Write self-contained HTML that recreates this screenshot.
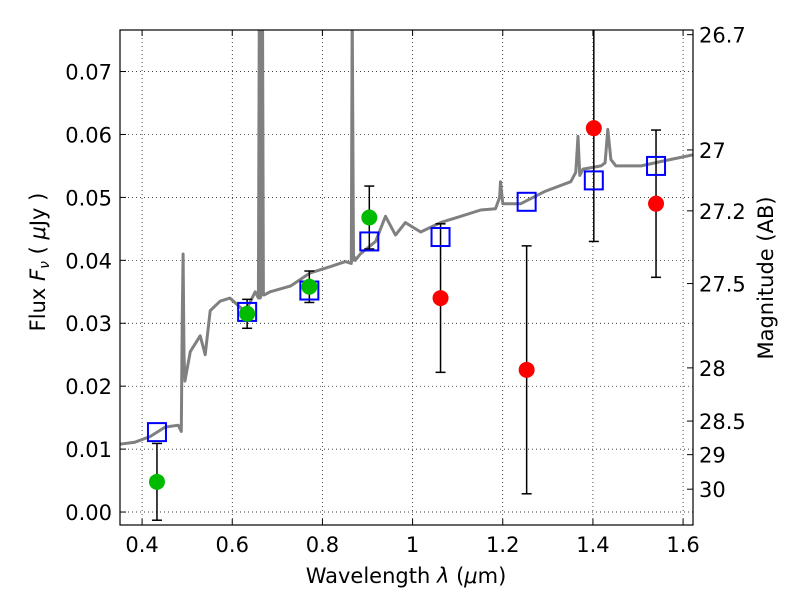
<!DOCTYPE html>
<html><head><meta charset="utf-8">
<style>
html,body{margin:0;padding:0;background:#fff;}
svg{display:block;font-family:"DejaVu Sans","Liberation Sans",sans-serif;}
</style></head>
<body>
<svg id="chart" width="800" height="600"></svg>
<script>
const specWave=[0.351,0.384,0.418,0.451,0.480,0.487,0.489,0.491,0.493,0.495,0.507,0.529,0.540,0.551,0.573,0.595,0.629,0.651,0.658,0.660,0.662,0.664,0.667,0.669,0.671,0.684,0.729,0.773,0.818,0.851,0.864,0.866,0.869,0.871,0.873,0.884,0.918,0.940,0.962,0.984,1.018,1.062,1.107,1.151,1.184,1.193,1.195,1.200,1.207,1.240,1.295,1.351,1.362,1.367,1.371,1.378,1.418,1.427,1.433,1.440,1.451,1.507,1.551,1.624];
const specFlux=[0.0108,0.0111,0.0120,0.0135,0.0138,0.0128,0.0300,0.0410,0.0250,0.0208,0.0255,0.0280,0.0250,0.0320,0.0335,0.0340,0.0318,0.0350,0.0340,0.0800,0.0340,0.0345,0.0800,0.0345,0.0345,0.0350,0.0359,0.0380,0.0390,0.0398,0.0395,0.0800,0.0400,0.0405,0.0400,0.0410,0.0430,0.0470,0.0440,0.0460,0.0445,0.0460,0.0470,0.0480,0.0482,0.0500,0.0525,0.0490,0.0490,0.0490,0.0510,0.0525,0.0540,0.0597,0.0535,0.0545,0.0550,0.0555,0.0608,0.0560,0.0550,0.0550,0.0557,0.0568];
const modelWave=[0.433,0.633,0.771,0.904,1.062,1.253,1.402,1.540];
const modelFlux=[0.0127,0.0318,0.0352,0.0430,0.0437,0.0493,0.0527,0.0550];
const detWave=[0.433,0.633,0.771,0.904];
const detFlux=[0.0048,0.0315,0.0358,0.0468];
const detErr=[0.0061,0.0023,0.0025,0.0050];
const ndWave=[1.062,1.253,1.402,1.540];
const ndFlux=[0.0340,0.0226,0.0610,0.0490];
const ndErr=[0.0118,0.0197,0.0180,0.0117];
const xTicks=[0.4,0.6,0.8,1.0,1.2,1.4,1.6];
const xTickLabels=["0.4","0.6","0.8","1","1.2","1.4","1.6"];
const yTicks=[0,0.01,0.02,0.03,0.04,0.05,0.06,0.07];
const yTickLabels=["0.00","0.01","0.02","0.03","0.04","0.05","0.06","0.07"];
const magTicks=[26.7,27,27.2,27.5,28,28.5,29,30];
const magTickLabels=["26.7","27","27.2","27.5","28","28.5","29","30"];

const L=120,R=693,T=30,B=525;
const xMin=0.351,xMax=1.622,yMin=-0.00206,yMax=0.0766;
const X=v=>L+(v-xMin)/(xMax-xMin)*(R-L);
const Y=v=>B-(v-yMin)/(yMax-yMin)*(B-T);
const NS="http://www.w3.org/2000/svg";
const svg=document.getElementById('chart');
function mk(tag,attrs,parent){const e=document.createElementNS(NS,tag);for(const k in attrs)e.setAttribute(k,attrs[k]);(parent||svg).appendChild(e);return e;}
const defs=mk('defs',{});const cp=mk('clipPath',{id:'clip'},defs);mk('rect',{x:L,y:T,width:R-L,height:B-T},cp);

const grid=mk('g',{});


xTicks.forEach(v=>mk('line',{x1:X(v),x2:X(v),y1:T,y2:B,stroke:'#000','stroke-width':0.7,'stroke-dasharray':'1,3'},grid));
yTicks.forEach(v=>mk('line',{x1:L,x2:R,y1:Y(v),y2:Y(v),stroke:'#000','stroke-width':0.7,'stroke-dasharray':'1,3'},grid));

const g=mk('g',{'clip-path':'url(#clip)'});
const pts=specWave.map((w,i)=>X(w).toFixed(1)+','+Y(specFlux[i]).toFixed(1)).join(' ');
const sp=mk('polyline',{points:pts,fill:'none',stroke:'#808080','stroke-width':3,'stroke-linejoin':'round'},g);



function errBar(w,f,e,name){
  const x=X(w),y1=Y(f+e),y2=Y(f-e);
  const eb=mk('g',{},g);
  
  
  mk('line',{x1:x,x2:x,y1:y1,y2:y2,stroke:'#000','stroke-width':1.5},eb);
  mk('line',{x1:x-5,x2:x+5,y1:y1,y2:y1,stroke:'#000','stroke-width':1.5},eb);
  mk('line',{x1:x-5,x2:x+5,y1:y2,y2:y2,stroke:'#000','stroke-width':1.5},eb);
}
detWave.forEach((w,i)=>errBar(w,detFlux[i],detErr[i],'error-bar'));
ndWave.forEach((w,i)=>errBar(w,ndFlux[i],ndErr[i],'error-bar'));

modelWave.forEach((w,i)=>{
  const r=mk('rect',{x:X(w)-9,y:Y(modelFlux[i])-9,width:18,height:18,fill:'none',stroke:'#0000ff','stroke-width':2},g);
  
  
});
detWave.forEach((w,i)=>{
  const c=mk('circle',{cx:X(w),cy:Y(detFlux[i]),r:8,fill:'#00bb00'},g);
  
  
});
ndWave.forEach((w,i)=>{
  const c=mk('circle',{cx:X(w),cy:Y(ndFlux[i]),r:8,fill:'#ff0000'},g);
  
  
});

const fr=mk('rect',{x:L,y:T,width:R-L,height:B-T,fill:'none',stroke:'#000','stroke-width':1.2});



xTicks.forEach((v,i)=>{
  mk('line',{x1:X(v),x2:X(v),y1:B,y2:B-6,stroke:'#000'});
  mk('line',{x1:X(v),x2:X(v),y1:T,y2:T+6,stroke:'#000'});
  const t=mk('text',{x:X(v),y:B+27,'font-size':21,'text-anchor':'middle'});t.textContent=xTickLabels[i];
  
  
});
yTicks.forEach((v,i)=>{
  mk('line',{x1:L,x2:L+6,y1:Y(v),y2:Y(v),stroke:'#000'});
  const t=mk('text',{x:L-8,y:Y(v)+8,'font-size':21,'text-anchor':'end'});t.textContent=yTickLabels[i];
  
  
});
magTicks.forEach((m,i)=>{
  const f=Math.pow(10,(23.9-m)/2.5);const y=Y(f);
  mk('line',{x1:R,x2:R-6,y1:y,y2:y,stroke:'#000'});
  const t=mk('text',{x:R+6,y:y+8,'font-size':21});t.textContent=magTickLabels[i];
  
  
});
</script>
<svg width="800" height="600" style="position:absolute;left:0;top:0">
<text x="406" y="583" font-size="21" text-anchor="middle" font-family="DejaVu Sans, Liberation Sans, sans-serif">Wavelength  <tspan font-style="italic">λ</tspan> (<tspan font-style="italic">μ</tspan>m)</text>
<text transform="translate(45,262) rotate(-90)" font-size="21" text-anchor="middle" font-family="DejaVu Sans, Liberation Sans, sans-serif">Flux  <tspan font-style="italic">F</tspan><tspan font-style="italic" font-size="14" dy="4">ν</tspan><tspan dy="-4">  (  </tspan><tspan font-style="italic">μ</tspan>Jy )</text>
<text transform="translate(773,278) rotate(-90)" font-size="21" text-anchor="middle" font-family="DejaVu Sans, Liberation Sans, sans-serif">Magnitude (AB)</text>
</svg>
</body></html>
